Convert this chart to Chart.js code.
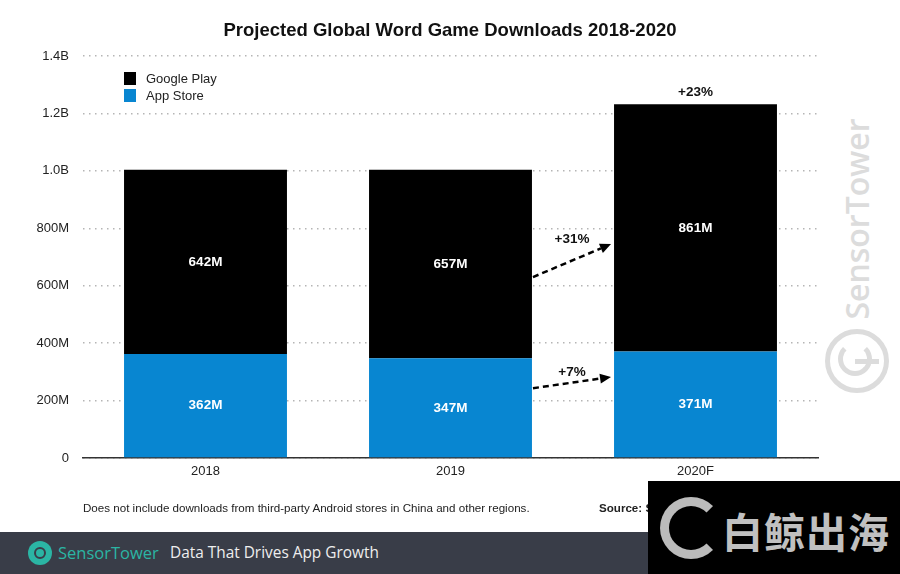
<!DOCTYPE html>
<html><head><meta charset="utf-8">
<script src="https://cdn.jsdelivr.net/npm/chart.js@4"></script>
<style>
html,body{margin:0;padding:0;background:#fff;width:900px;height:574px;overflow:hidden;font-family:"Liberation Sans",Arial,sans-serif;}
#wrap{position:absolute;left:0;top:0;width:900px;height:574px;}
#title{position:absolute;left:0;width:900px;top:19px;text-align:center;font-weight:bold;font-size:18.5px;color:#111;}
#legend{position:absolute;left:124px;top:70px;font-size:13px;color:#222;}
#legend .it{height:17px;line-height:17px;display:flex;align-items:center;}
#legend .sw{width:12px;height:13px;margin-right:10px;}
#note{position:absolute;left:83px;top:501px;font-size:11.6px;color:#222;}
#src{position:absolute;left:599px;top:501px;font-size:11.6px;color:#222;font-weight:bold;}
#footer{position:absolute;left:0;top:532px;width:900px;height:42px;background:#393d48;}
#flogo{position:absolute;left:28px;top:541px;width:24px;height:24px;border-radius:50%;background:#2bb5a4;}
#flogo:after{content:"";position:absolute;left:6px;top:6px;width:8px;height:8px;border-radius:50%;border:2px solid #393d48;}
#fst{position:absolute;left:58px;top:541px;font-family:"Open Sans",sans-serif;font-size:16.5px;color:#2bb5a4;}
#ftag{position:absolute;left:170px;top:542px;font-family:"Open Sans",sans-serif;font-size:15.4px;color:#eee;}
#bj{position:absolute;left:648px;top:481px;width:252px;height:93px;background:#000;}
#bjg{position:absolute;left:660px;top:497px;width:44px;height:44px;border:9px solid #bbb;border-radius:50%;border-right-color:transparent;}
#bjt{position:absolute;left:722px;top:500px;font-family:"Noto Sans CJK SC",sans-serif;font-weight:bold;font-size:41px;color:#c0c0c0;letter-spacing:1px;}
#wm{position:absolute;left:856px;top:219px;transform:translate(-50%,-50%) rotate(-90deg);font-family:"Open Sans",sans-serif;font-weight:600;font-size:32px;color:#dcdcdc;white-space:nowrap;}
#wmc{position:absolute;left:825px;top:329px;width:54px;height:54px;border:5px solid #dcdcdc;border-radius:50%;}
#wmi{position:absolute;left:838px;top:342px;width:24px;height:24px;border:5px solid #dcdcdc;border-radius:50%;border-top-color:transparent;}
#wml{position:absolute;left:855px;top:359px;width:24px;height:5px;background:#dcdcdc;}
canvas{position:absolute;left:0;top:0;}
</style></head>
<body><div id="wrap">
<div id="wm">SensorTower</div>
<div id="wmc"></div><div id="wmi"></div><div id="wml"></div>
<canvas id="c" width="900" height="574"></canvas>
<div id="title">Projected Global Word Game Downloads 2018-2020</div>
<div id="legend"></div>
<div id="note">Does not include downloads from third-party Android stores in China and other regions.</div>
<div id="src">Source: Sensor Tower</div>
<div id="footer"></div>
<div id="flogo"></div>
<div id="fst">SensorTower</div>
<div id="ftag">Data That Drives App Growth</div>
<div id="bj"></div>
<div id="bjg"></div>
<div id="bjt">白鲸出海</div>
</div>
<script>
const categories = ['2018', '2019', '2020F'];
const appStore = [362, 347, 371];
const googlePlay = [642, 657, 861];
const seriesLabels = ['Google Play', 'App Store'];
const seriesColors = ['#000000', '#0886d1'];
const topLabels = ['', '', '+23%'];
const yTicks = [0, 200, 400, 600, 800, 1000, 1200, 1400];
const yTickLabels = ['0', '200M', '400M', '600M', '800M', '1.0B', '1.2B', '1.4B'];
// growth arrows between 2019 and 2020F: [label, fromValue, toValue]
const growthArrows = [['+31%', 630, 745], ['+7%', 243, 282]];

// legend
const lg = document.getElementById('legend');
seriesLabels.forEach((l, i) => {
  const d = document.createElement('div'); d.className = 'it';
  d.innerHTML = '<span class="sw" style="background:' + seriesColors[i] + '"></span>' + l;
  lg.appendChild(d);
});

const FONT = '"Liberation Sans", Arial, sans-serif';
const labelPlugin = {
  id: 'labels',
  afterDatasetsDraw(chart) {
    const ctx = chart.ctx;
    ctx.save();
    ctx.textAlign = 'center'; ctx.textBaseline = 'middle';
    ctx.font = 'bold 13.5px ' + FONT; ctx.fillStyle = '#fff';
    chart.data.datasets.forEach((ds, di) => {
      chart.getDatasetMeta(di).data.forEach((el, i) => {
        ctx.fillText(ds.data[i] + 'M', el.x, (el.y + el.base) / 2);
      });
    });
    const top = chart.getDatasetMeta(1).data;
    ctx.fillStyle = '#111'; ctx.font = 'bold 13.5px ' + FONT;
    top.forEach((el, i) => { if (topLabels[i]) ctx.fillText(topLabels[i], el.x, el.y - 12); });
    // arrows
    const y = chart.scales.y;
    const a = chart.getDatasetMeta(0).data[1], b = chart.getDatasetMeta(0).data[2];
    const x0 = a.x + a.width / 2 + 1, x1 = b.x - b.width / 2 - 3;
    growthArrows.forEach(([lab, f, t]) => {
      const y0 = y.getPixelForValue(f), y1 = y.getPixelForValue(t);
      const ang = Math.atan2(y1 - y0, x1 - x0);
      const hl = 11;
      const ex = x1 - hl * Math.cos(ang), ey = y1 - hl * Math.sin(ang);
      ctx.strokeStyle = '#000'; ctx.lineWidth = 2.5; ctx.setLineDash([6, 4]);
      ctx.beginPath(); ctx.moveTo(x0, y0); ctx.lineTo(ex, ey); ctx.stroke();
      ctx.setLineDash([]);
      ctx.fillStyle = '#000';
      ctx.beginPath(); ctx.moveTo(x1, y1);
      ctx.lineTo(ex + 5 * Math.sin(ang), ey - 5 * Math.cos(ang));
      ctx.lineTo(ex - 5 * Math.sin(ang), ey + 5 * Math.cos(ang));
      ctx.closePath(); ctx.fill();
      ctx.fillStyle = '#111'; ctx.font = 'bold 13.5px ' + FONT;
      ctx.fillText(lab, (x0 + x1) / 2, Math.min(y0, y1) - 5);
    });
    ctx.restore();
  }
};

new Chart(document.getElementById('c'), {
  type: 'bar',
  data: {
    labels: categories,
    datasets: [
      { label: seriesLabels[1], data: appStore, backgroundColor: seriesColors[1] },
      { label: seriesLabels[0], data: googlePlay, backgroundColor: seriesColors[0] }
    ]
  },
  options: {
    responsive: false, animation: false,
    layout: { padding: { top: 56, right: 82, left: 0, bottom: 0 } },
    plugins: { legend: { display: false }, tooltip: { enabled: false } },
    datasets: { bar: { barPercentage: 0.665, categoryPercentage: 1 } },
    scales: {
      x: {
        stacked: true,
        grid: { display: false, drawTicks: false },
        border: { display: true, color: '#333', width: 1.5 },
        ticks: { color: '#222', font: { family: FONT, size: 13 }, padding: 6 },
        afterFit(s) { s.height = 574 - 458; }
      },
      y: {
        stacked: true, min: 0, max: 1400,
        afterBuildTicks(s) { s.ticks = yTicks.map(v => ({ value: v })); },
        grid: { color: '#b5b5b5', lineWidth: 1.5, drawTicks: false },
        border: { display: false, dash: [1.5, 4.5] },
        ticks: {
          color: '#222', font: { family: FONT, size: 13 }, padding: 14,
          callback: (v) => yTickLabels[yTicks.indexOf(v)]
        },
        afterFit(s) { s.width = 83; }
      }
    }
  },
  plugins: [labelPlugin]
});
</script>
</body></html>
